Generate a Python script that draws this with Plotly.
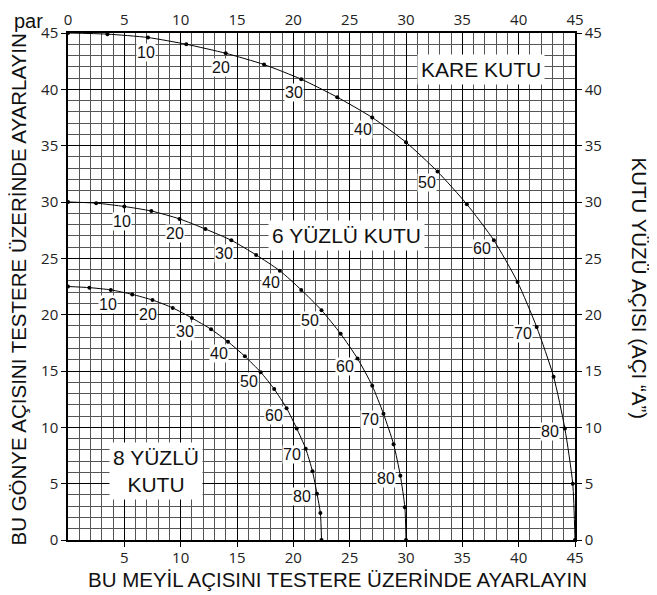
import math
import plotly.graph_objects as go

# Box face angle "A" (degrees) for each marked point
angle_a = [0, 5, 10, 15, 20, 25, 30, 35, 40, 45, 50, 55, 60, 65, 70, 75, 80, 85, 90]

# Square box (KARE KUTU): bevel (x) and miter (y)
square_bevel = [0, 3.5, 7.1, 10.5, 14.0, 17.4, 20.7, 23.9, 27.0, 30.0, 32.8, 35.4, 37.8, 39.9, 41.6, 43.1, 44.1, 44.8, 45]
square_miter = [45, 44.9, 44.6, 44.0, 43.2, 42.2, 40.9, 39.3, 37.5, 35.3, 32.7, 29.8, 26.6, 22.9, 18.9, 14.5, 9.9, 5.0, 0]

# 6-sided box (6 YÜZLÜ KUTU)
hex_bevel = [0, 2.5, 5.0, 7.4, 9.9, 12.2, 14.5, 16.7, 18.8, 20.7, 22.5, 24.2, 25.7, 27.0, 28.0, 28.9, 29.5, 29.9, 30]
hex_miter = [30, 29.9, 29.6, 29.2, 28.5, 27.6, 26.6, 25.3, 23.9, 22.2, 20.4, 18.3, 16.1, 13.7, 11.2, 8.5, 5.7, 2.9, 0]

# 8-sided box (8 YÜZLÜ KUTU)
oct_bevel = [0, 1.9, 3.8, 5.7, 7.5, 9.3, 11.0, 12.7, 14.2, 15.7, 17.1, 18.3, 19.4, 20.3, 21.1, 21.7, 22.1, 22.4, 22.5]
oct_miter = [22.5, 22.4, 22.2, 21.8, 21.3, 20.6, 19.7, 18.7, 17.6, 16.3, 14.9, 13.4, 11.7, 9.9, 8.1, 6.1, 4.1, 2.4, 0]

labelled_angles = [10, 20, 30, 40, 50, 60, 70, 80]

x_ticks_bottom = [5, 10, 15, 20, 25, 30, 35, 40, 45]
axis_ticks = [0, 5, 10, 15, 20, 25, 30, 35, 40, 45]
minor_ticks = list(range(0, 46))

box_names = ["KARE KUTU", "6 YÜZLÜ KUTU", "8 YÜZLÜ<br>KUTU"]
box_label_x = [36.7, 24.7, 7.8]
box_label_y = [41.8, 27.0, 6.1]

x_title = "BU MEYİL AÇISINI TESTERE ÜZERİNDE AYARLAYIN"
y_title = "BU GÖNYE AÇISINI TESTERE ÜZERİNDE AYARLAYIN"
y2_title = "KUTU YÜZÜ AÇISI (AÇI “A”)"

TXT = "Liberation Sans, Arial, Helvetica, sans-serif"
TICKF = dict(family="Open Sans, Liberation Sans, sans-serif", size=15, color="#222")

fig = go.Figure()

series = [(square_bevel, square_miter), (hex_bevel, hex_miter), (oct_bevel, oct_miter)]
for bx, my in series:
    fig.add_trace(go.Scatter(
        x=bx, y=my, mode="lines+markers",
        line=dict(color="black", width=1, shape="spline", smoothing=0.6),
        marker=dict(color="black", size=4),
        showlegend=False, hoverinfo="skip",
    ))

# invisible trace for secondary axes
fig.add_trace(go.Scatter(x=[0], y=[0], xaxis="x2", yaxis="y2", mode="markers",
                         marker=dict(opacity=0), showlegend=False, hoverinfo="skip"))

annotations = []
for bx, my in series:
    for a in labelled_angles:
        i = angle_a.index(a)
        x, y = bx[i], my[i]
        r = math.hypot(x, y)
        ux, uy = x / r, y / r
        annotations.append(dict(
            x=x, y=y, xref="x", yref="y", text=str(a), showarrow=False,
            xshift=-15 * ux, yshift=-15 * uy,
            font=dict(family=TXT, size=16, color="#111"),
            bgcolor="white", borderpad=0,
        ))

for name, bxp, byp in zip(box_names, box_label_x, box_label_y):
    annotations.append(dict(
        x=bxp, y=byp, xref="x", yref="y", text=name, showarrow=False,
        font=dict(family=TXT, size=21, color="#111"),
        bgcolor="white", borderpad=3,
    ))

# plot area on the page: x 68..575, y 33..540 (page body has an 8px margin)
W0, H0 = 68, 540
S = 507.0
def px(p):
    return (p - W0) / S
def py(p):
    return (H0 - p) / S

TITLEF = dict(family=TXT, size=20.5, color="#111")
annotations += [
    dict(x=px(337), y=py(579), xref="paper", yref="paper", text=x_title, showarrow=False,
         font=TITLEF, xanchor="center", yanchor="middle"),
    dict(x=px(18.5), y=py(290), xref="paper", yref="paper", text=y_title, showarrow=False,
         textangle=-90, font=TITLEF, xanchor="center", yanchor="middle"),
    dict(x=px(639.5), y=py(288), xref="paper", yref="paper", text=y2_title, showarrow=False,
         textangle=90, font=TITLEF, xanchor="center", yanchor="middle"),
    dict(x=px(12), y=py(8), xref="paper", yref="paper", text="par", showarrow=False,
         font=dict(family=TXT, size=20, color="#111"), xanchor="left", yanchor="top"),
]

grid_common = dict(
    range=[0, 45], showgrid=True, gridcolor="black", gridwidth=1.4,
    zeroline=False, showline=True, linecolor="black", linewidth=1.5,
    minor=dict(tickmode="array", tickvals=minor_ticks, showgrid=True, gridcolor="#555555", gridwidth=1),
    tickfont=TICKF, ticks="outside", ticklen=5, tickcolor="black", tickwidth=1,
    fixedrange=True, automargin=False,
)

fig.update_layout(
    width=649, height=587,
    margin=dict(l=60, r=82, t=25, b=55),
    paper_bgcolor="white", plot_bgcolor="white",
    xaxis=dict(grid_common, tickmode="array", tickvals=x_ticks_bottom, ticklabelstandoff=-2),
    yaxis=dict(grid_common, tickmode="array", tickvals=axis_ticks),
    xaxis2=dict(range=[0, 45], overlaying="x", side="top", tickmode="array", tickvals=axis_ticks,
                showgrid=False, zeroline=False, showline=True, linecolor="black", linewidth=1.5,
                ticks="", tickfont=TICKF, fixedrange=True, automargin=False),
    yaxis2=dict(range=[0, 45], overlaying="y", side="right", tickmode="array", tickvals=axis_ticks,
                showgrid=False, zeroline=False, showline=True, linecolor="black", linewidth=1.5,
                ticks="outside", ticklen=5, tickcolor="black", tickfont=TICKF, fixedrange=True,
                automargin=False),
    annotations=annotations,
    showlegend=False,
)

fig.write_html("out.html")
